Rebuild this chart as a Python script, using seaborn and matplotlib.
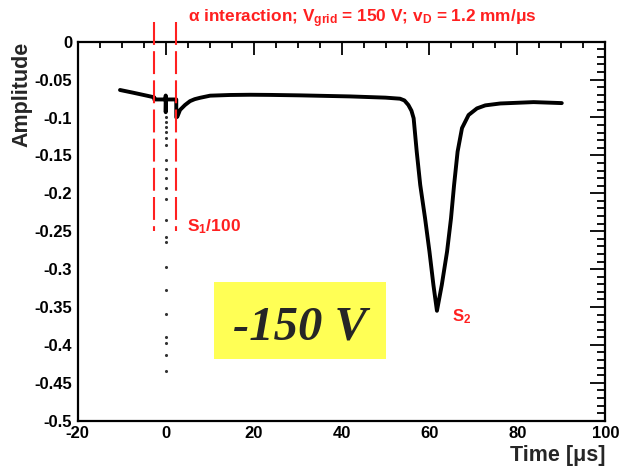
import matplotlib
matplotlib.use("Agg")
import matplotlib.pyplot as plt
import matplotlib.patches as mpatches
from matplotlib.ticker import MultipleLocator, FixedLocator
import seaborn as sns

# ---- data ----
time_us = [-10.4, -7.4, -4.3, -2.6, -2.6, -0.05, 0.0, 0.0, 0.05, 2.4, 2.4, 2.64,
           3.26, 4.39, 5.53, 6.6, 7.81, 10.1, 14.6, 19.2, 23.7, 30.6, 42.0, 50.0,
           53.3, 54.3, 55.2, 55.9, 56.4, 57.1, 57.9, 59.0, 60.0, 60.9, 61.7, 62.8,
           64.0, 64.9, 65.6, 66.4, 67.4, 68.9, 70.8, 72.7, 76.1, 83.7, 90.1]
amplitude = [-0.0637, -0.0673, -0.0712, -0.0734, -0.0762, -0.0762, -0.071, -0.093,
             -0.0762, -0.0762, -0.0998, -0.099, -0.090, -0.0835, -0.0784, -0.0758,
             -0.074, -0.0712, -0.0703, -0.0700, -0.0702, -0.0708, -0.0722, -0.0738,
             -0.0752, -0.0775, -0.0835, -0.091, -0.101, -0.145, -0.189, -0.233,
             -0.277, -0.321, -0.355, -0.321, -0.277, -0.233, -0.189, -0.145, -0.114,
             -0.0967, -0.088, -0.0840, -0.0815, -0.0797, -0.0810]
s1_dots_t = [0.0] * 21
s1_dots_amp = [-0.099, -0.106, -0.112, -0.119, -0.127, -0.136, -0.156, -0.180,
               -0.207, -0.235, -0.258, -0.264, -0.297, -0.328, -0.359, -0.390,
               -0.397, -0.413, -0.434, -0.168, -0.193]
window_t = [-2.6, 2.4]
x_ticks = [-20, 0, 20, 40, 60, 80, 100]
y_ticks = [0, -0.05, -0.1, -0.15, -0.2, -0.25, -0.3, -0.35, -0.4, -0.45, -0.5]
y_tick_labels = ["0", "-0.05", "-0.1", "-0.15", "-0.2", "-0.25", "-0.3", "-0.35",
                 "-0.4", "-0.45", "-0.5"]

sns.set_style("white")
plt.rcParams["font.family"] = ["Liberation Sans", "DejaVu Sans"]
plt.rcParams["font.weight"] = "bold"
plt.rcParams["axes.unicode_minus"] = False
plt.rcParams["mathtext.fontset"] = "custom"
plt.rcParams["mathtext.rm"] = "Liberation Sans:bold"
plt.rcParams["mathtext.it"] = "Liberation Sans:bold"
plt.rcParams["mathtext.bf"] = "Liberation Sans:bold"
plt.rcParams["mathtext.default"] = "rm"

W, H = 622, 466
fig = plt.figure(figsize=(W / 100, H / 100), dpi=100)
ax = fig.add_axes([77.8 / W, 1 - 420.7 / H, (605.3 - 77.8) / W, (420.7 - 41.7) / H])

sns.lineplot(x=time_us, y=amplitude, sort=False, estimator=None, color="black",
             lw=2.8, ax=ax)
sns.scatterplot(x=s1_dots_t, y=s1_dots_amp, s=5, color="#333333", linewidth=0, ax=ax)

red = "#ff2020"
for t in window_t:
    ax.plot([t, t], [0.026, -0.25], color=red, lw=1.5, dashes=(11, 3),
            clip_on=False, zorder=5)

ax.set_xlim(-20, 100)
ax.set_ylim(-0.5, 0)
ax.xaxis.set_major_locator(FixedLocator(x_ticks))
ax.xaxis.set_minor_locator(MultipleLocator(5))
ax.yaxis.set_major_locator(FixedLocator(y_ticks))
ax.set_yticklabels(y_tick_labels)
ax.set_xticklabels([str(v) for v in x_ticks])
ax.yaxis.set_minor_locator(MultipleLocator(0.01))
ax.tick_params(which="both", direction="in", top=True, right=True, width=1.3,
               colors="black", labelsize=12)
ax.tick_params(axis="x", which="major", length=9, pad=4)
ax.tick_params(axis="x", which="minor", length=4.5)
ax.tick_params(axis="y", which="major", length=11, pad=4)
ax.tick_params(axis="y", which="minor", length=6)
for lab in ax.get_xticklabels() + ax.get_yticklabels():
    lab.set_fontweight("bold")
for sp in ax.spines.values():
    sp.set_linewidth(1.6)
    sp.set_color("black")
ax.set_xlabel("")
ax.set_ylabel("")

fig.text(22 / W, 1 - 42 / H, "Amplitude", rotation=90, ha="center", va="top",
         fontsize=15.5, fontweight="bold")
fig.text(605 / W, 1 - 461 / H, "Time [μs]", ha="right", va="baseline",
         fontsize=15.5, fontweight="bold")

fig.text(188 / W, 1 - 22.7 / H,
         "α interaction; V$_{grid}$ = 150 V; v$_{D}$ = 1.2 mm/μs",
         ha="left", va="baseline", fontsize=12.4, fontweight="bold", color=red)
fig.text(186.7 / W, 1 - 231.7 / H, "S$_{1}$/100", ha="left", va="baseline",
         fontsize=12.5, fontweight="bold", color=red)
fig.text(451.7 / W, 1 - 321.7 / H, "S$_{2}$", ha="left", va="baseline",
         fontsize=12, fontweight="bold", color=red)

box = mpatches.Rectangle((214 / W, 1 - 359.3 / H), (385.7 - 214) / W, 77 / H,
                         transform=fig.transFigure, facecolor="#ffff55",
                         edgecolor="none", zorder=10)
fig.patches.append(box)
fig.text(299.5 / W, 1 - 339 / H, "-150 V", ha="center", va="baseline",
         fontsize=35, fontweight="bold", fontstyle="italic",
         family=["Liberation Serif", "DejaVu Serif"], zorder=11)

fig.savefig("out.png", dpi=100)
